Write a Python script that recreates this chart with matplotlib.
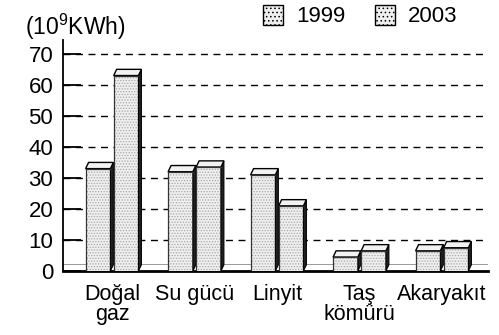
import numpy as np
from matplotlib import pyplot as plt
from matplotlib.patches import Polygon, Rectangle

plt.rcParams['font.family'] = ['Liberation Sans', 'DejaVu Sans']
plt.rcParams['mathtext.fontset'] = 'custom'
plt.rcParams['mathtext.rm'] = 'Liberation Sans'
plt.rcParams['hatch.linewidth'] = 0.6

categories = ["Doğal\ngaz", "Su gücü", "Linyit", "Taş\nkömürü", "Akaryakıt"]
years = ["1999", "2003"]
prod_1999 = [33, 32, 31, 4.5, 6.5]
prod_2003 = [63, 33.5, 21, 6.5, 7.5]
yticks = [0, 10, 20, 30, 40, 50, 60, 70]

fig = plt.figure(figsize=(4.99, 3.35), dpi=100)
ax = fig.add_axes([0.1263, 0.191, 0.978 - 0.1263, 0.881 - 0.191])

x = np.arange(len(categories))
w = 0.30
off = 0.17
dx, dy = 0.036, 2.0   # depth of the fake 3d boxes

def box(xc, h):
    bar = ax.bar(xc, h, width=w, facecolor='#efefef', edgecolor='#a8a8a8',
                 linewidth=0, hatch='......', zorder=3)[0]
    x0 = bar.get_x()
    x1 = x0 + bar.get_width()
    top = bar.get_height()
    side = Polygon([(x1, 0), (x1 + dx, dy), (x1 + dx, top + dy), (x1, top)],
                   closed=True, facecolor='#222222', edgecolor='black', lw=0.8, zorder=4)
    cap = Polygon([(x0, top), (x0 + dx, top + dy), (x1 + dx, top + dy), (x1, top)],
                  closed=True, facecolor='#f2f2f2', edgecolor='black', lw=1.0, zorder=4)
    ax.add_patch(side)
    ax.add_patch(cap)
    ax.plot([x0, x0], [0, top], color='#333333', lw=0.9, zorder=4)
    ax.plot([x0, x1], [top, top], color='#333333', lw=0.9, zorder=4)

for i in range(len(categories)):
    box(x[i] - off, prod_1999[i])
    box(x[i] + off, prod_2003[i])

# floor line behind the bars
ax.axhline(2.3, color='#999999', lw=0.7, zorder=1)

ax.set_xlim(-0.594, 4.558)
ax.set_ylim(0, 74.5)
ax.set_yticks(yticks)
ax.set_yticklabels([str(t) for t in yticks], fontsize=16)
for t in yticks[1:]:
    ax.axhline(t, color='black', lw=1.0, ls=(0, (5, 4)), zorder=2)
ax.tick_params(axis='y', direction='in', length=13, width=1.3, pad=7)

ax.set_xticks(x)
ax.set_xticklabels(categories, fontsize=15.5, linespacing=0.95)
ax.tick_params(axis='x', length=0, pad=9)

for s in ['top', 'right']:
    ax.spines[s].set_visible(False)
ax.spines['left'].set_linewidth(1.3)
ax.spines['bottom'].set_linewidth(2.0)

fig.text(0.05, 0.965, '(10$^{\\mathregular{9}}$KWh)', fontsize=16.5, va='top', ha='left')

handles = [Rectangle((0, 0), 1, 1, facecolor='#efefef', edgecolor='black',
                     hatch='....', lw=1.0) for _ in years]
fig.legend(handles, years, loc='center right', bbox_to_anchor=(0.935, 0.952),
           ncol=2, frameon=False, fontsize=16, handlelength=0.9, handleheight=1.0,
           handletextpad=0.6, columnspacing=1.3, borderaxespad=0)

fig.savefig('out.png', dpi=100)
